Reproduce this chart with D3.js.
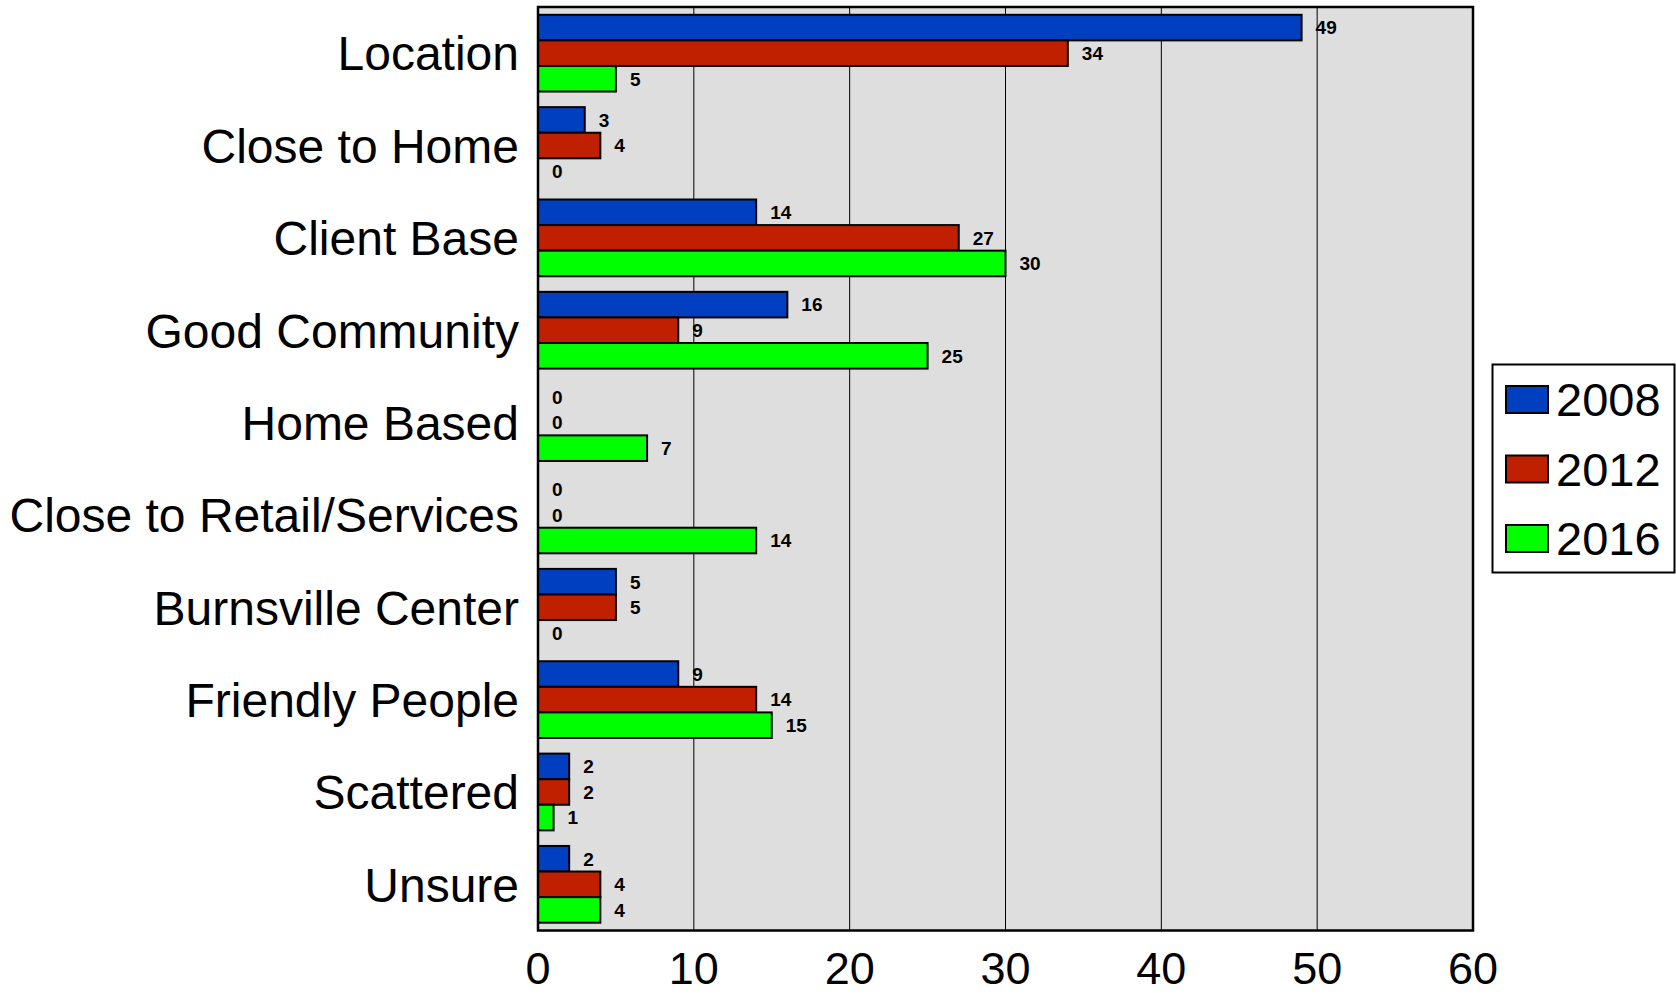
<!DOCTYPE html>
<html lang="en">
<head>
  <meta charset="UTF-8">
  <title>Reasons by Year</title>
  <script src="https://d3js.org/d3.v7.min.js"></script>
  <style>
    body {
      margin: 0;
      background: #ffffff;
      font-family: 'Liberation Sans', Arial, sans-serif;
    }
    svg { display: block; }
    .cat-label { font-size: 48px; fill: #000; }
    .tick-label { font-size: 45px; fill: #000; }
    .val-label { font-size: 19px; font-weight: bold; fill: #000; }
    .legend-label { font-size: 47px; fill: #000; }
  </style>
</head>
<body>
<svg width="1676" height="994"></svg>

<script>
  // Data
  const categories = ["Location", "Close to Home", "Client Base", "Good Community", "Home Based",
                      "Close to Retail/Services", "Burnsville Center", "Friendly People", "Scattered", "Unsure"];
  const series = ["2008", "2012", "2016"];
  const colors = ["#0040c0", "#c02000", "#00ff00"];
  const values2008 = [49, 3, 14, 16, 0, 0, 5, 9, 2, 2];
  const values2012 = [34, 4, 27, 9, 0, 0, 5, 14, 2, 4];
  const values2016 = [5, 0, 30, 25, 7, 14, 0, 15, 1, 4];
  const xTicks = [0, 10, 20, 30, 40, 50, 60];

  const allValues = [values2008, values2012, values2016];
  const rows = categories.map((c, i) => ({
    cat: c,
    vals: series.map((s, j) => ({ series: s, value: allValues[j][i], color: colors[j] }))
  }));

  const svg = d3.select("svg");
  const plot = { left: 538, right: 1473, top: 7, bottom: 930.5 };

  const x = d3.scaleLinear().domain([0, 60]).range([plot.left, plot.right]);
  const y0 = d3.scaleBand().domain(categories).range([plot.top, plot.bottom]);
  const y1 = d3.scaleBand().domain(series).range([7.8, y0.bandwidth() - 7.8]);

  // plot background
  svg.append("rect")
    .attr("x", plot.left).attr("y", plot.top)
    .attr("width", plot.right - plot.left).attr("height", plot.bottom - plot.top)
    .attr("fill", "#dedede");

  // vertical gridlines
  svg.append("g")
    .selectAll("line")
    .data(xTicks.slice(1, -1))
    .enter().append("line")
    .attr("x1", d => x(d)).attr("x2", d => x(d))
    .attr("y1", plot.top).attr("y2", plot.bottom)
    .attr("stroke", "#000").attr("stroke-width", 1);

  // bars
  const groups = svg.append("g")
    .selectAll("g")
    .data(rows)
    .enter().append("g")
    .attr("transform", d => `translate(0,${y0(d.cat)})`);

  groups.selectAll("rect")
    .data(d => d.vals.filter(v => v.value > 0))
    .enter().append("rect")
    .attr("x", x(0))
    .attr("y", d => y1(d.series))
    .attr("width", d => x(d.value) - x(0))
    .attr("height", y1.bandwidth())
    .attr("fill", d => d.color)
    .attr("stroke", "#000")
    .attr("stroke-width", 2);

  groups.selectAll("text")
    .data(d => d.vals)
    .enter().append("text")
    .attr("class", "val-label")
    .attr("x", d => x(d.value) + 14)
    .attr("y", d => y1(d.series) + y1.bandwidth() / 2)
    .attr("dy", "0.36em")
    .text(d => d.value);

  // plot border
  svg.append("rect")
    .attr("x", plot.left).attr("y", plot.top)
    .attr("width", plot.right - plot.left).attr("height", plot.bottom - plot.top)
    .attr("fill", "none")
    .attr("stroke", "#000")
    .attr("stroke-width", 2.5);

  // category labels
  svg.append("g")
    .selectAll("text")
    .data(categories)
    .enter().append("text")
    .attr("class", "cat-label")
    .attr("x", 519)
    .attr("y", d => y0(d) + y0.bandwidth() / 2)
    .attr("dy", "0.36em")
    .attr("text-anchor", "end")
    .text(d => d);

  // x tick labels
  svg.append("g")
    .selectAll("text")
    .data(xTicks)
    .enter().append("text")
    .attr("class", "tick-label")
    .attr("x", d => x(d))
    .attr("y", 984)
    .attr("text-anchor", "middle")
    .text(d => d);

  // legend
  const legend = svg.append("g");
  legend.append("rect")
    .attr("x", 1492.5).attr("y", 364.5)
    .attr("width", 182).attr("height", 208)
    .attr("fill", "#fff")
    .attr("stroke", "#000")
    .attr("stroke-width", 2);

  const items = legend.selectAll("g")
    .data(series)
    .enter().append("g")
    .attr("transform", (d, i) => `translate(1506,${386 + i * 69.5})`);

  items.append("rect")
    .attr("width", 42).attr("height", 27)
    .attr("fill", (d, i) => colors[i])
    .attr("stroke", "#000")
    .attr("stroke-width", 2);

  items.append("text")
    .attr("class", "legend-label")
    .attr("x", 50)
    .attr("y", 30)
    .text(d => d);
</script>
</body>
</html>
